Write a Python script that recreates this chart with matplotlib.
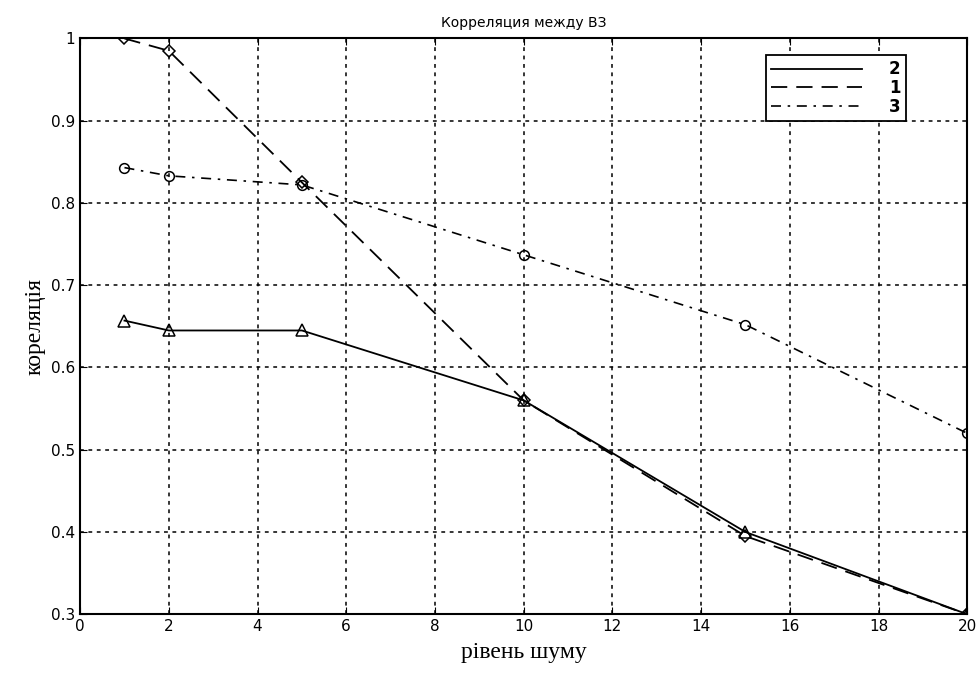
"""Correlation vs noise level, three series, MATLAB-like scanned look."""
import matplotlib
matplotlib.use("Agg")
import matplotlib.pyplot as plt

noise = [1, 2, 5, 10, 15, 20]
corr_1 = [1.0, 0.985, 0.825, 0.56, 0.395, 0.30]
corr_2 = [0.657, 0.645, 0.645, 0.56, 0.40, 0.30]
corr_3 = [0.843, 0.833, 0.822, 0.737, 0.652, 0.52]

x_ticks = list(range(0, 21, 2))
y_ticks = [0.3, 0.4, 0.5, 0.6, 0.7, 0.8, 0.9, 1.0]
y_tick_labels = ["0.3", "0.4", "0.5", "0.6", "0.7", "0.8", "0.9", "1"]

fig = plt.figure(figsize=(9.77, 6.75), dpi=100)
ax = fig.add_axes([0.082, 0.090, 0.908, 0.853])

grid_style = dict(color="black", linestyle=(0, (2.5, 3)), linewidth=1.1)
for xt in x_ticks[1:-1]:
    ax.axvline(xt, zorder=0, **grid_style)
for yt in y_ticks[1:-1]:
    ax.axhline(yt, zorder=0, **grid_style)

line2, = ax.plot(noise, corr_2, color="black", linewidth=1.3, linestyle="-",
                 marker="^", markersize=8, markerfacecolor="none", markeredgewidth=1.1)
line1, = ax.plot(noise, corr_1, color="black", linewidth=1.3, linestyle=(0, (9, 5)),
                 marker="D", markersize=6, markerfacecolor="none", markeredgewidth=1.1)
line3, = ax.plot(noise, corr_3, color="black", linewidth=1.2, linestyle=(0, (6, 4, 1.5, 4)),
                 marker="o", markersize=7, markerfacecolor="none", markeredgewidth=1.1)

ax.set_xlim(0, 20)
ax.set_ylim(0.3, 1.0)
ax.set_xticks(x_ticks)
ax.set_yticks(y_ticks)
ax.set_yticklabels(y_tick_labels)
ax.tick_params(direction="in", top=True, right=False, length=5, labelsize=11)
for sp in ax.spines.values():
    sp.set_linewidth(1.5)

ax.set_title("Корреляция между ВЗ", fontsize=10, family="DejaVu Sans", pad=8)
ax.set_ylabel("кореляція", fontsize=17, family="Liberation Serif", labelpad=4)
ax.set_xlabel("рівень шуму", fontsize=17, family="Liberation Serif", labelpad=6)

leg = ax.legend([line2, line1, line3], ["2", "1", "3"], loc="upper right",
                bbox_to_anchor=(0.94, 0.985), handlelength=5.5, fontsize=12,
                frameon=True, fancybox=False, edgecolor="black", framealpha=1,
                borderpad=0.3, labelspacing=0.05, handletextpad=1.6)
for h in leg.legend_handles:
    h.set_marker("")
leg.get_frame().set_linewidth(1.3)
for t in leg.get_texts():
    t.set_fontweight("bold")

fig.savefig("out.png", dpi=100)
plt.close(fig)
